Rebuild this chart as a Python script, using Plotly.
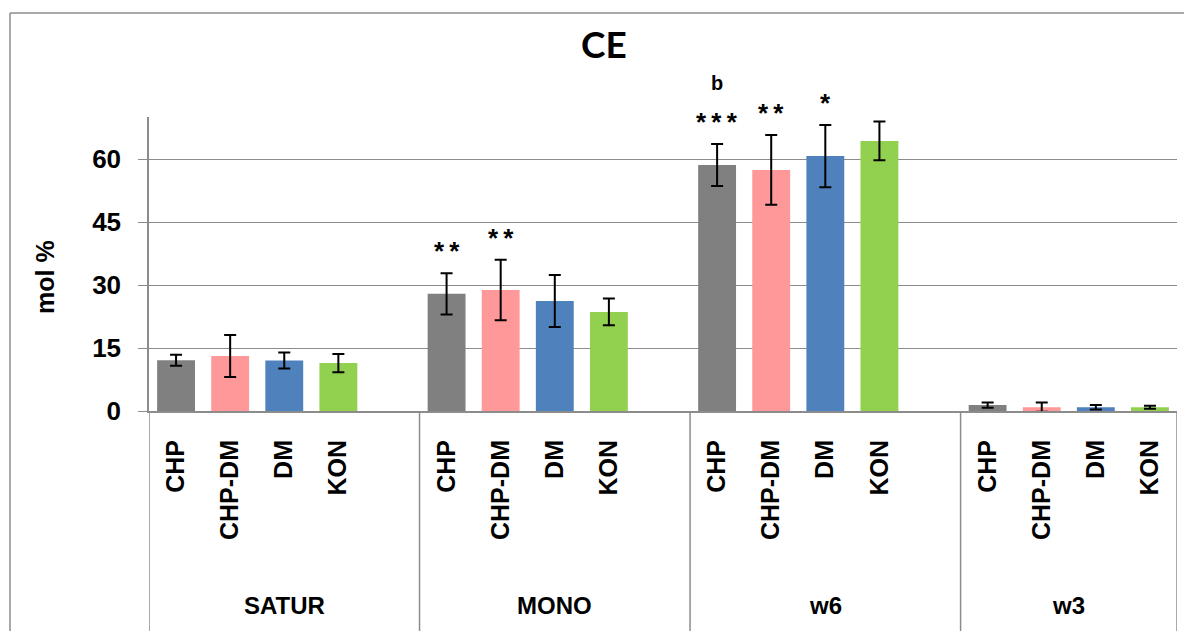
import plotly.graph_objects as go

# ---- data ----
groups = ["SATUR", "MONO", "w6", "w3"]
treatments = ["CHP", "CHP-DM", "DM", "KON"]

chp_mean = [12.1, 27.9, 58.6, 1.4]
chpdm_mean = [13.1, 28.8, 57.4, 0.9]
dm_mean = [12.0, 26.2, 60.7, 0.9]
kon_mean = [11.4, 23.6, 64.3, 0.9]

chp_err = [1.3, 4.9, 5.0, 0.6]
chpdm_err = [5.0, 7.2, 8.3, 1.1]
dm_err = [1.9, 6.2, 7.4, 0.55]
kon_err = [2.2, 3.2, 4.6, 0.35]

sig_group = ["MONO", "MONO", "w6", "w6", "w6"]
sig_treat = ["CHP", "CHP-DM", "CHP", "CHP-DM", "DM"]
sig_text = ["**", "**", "***", "**", "*"]

letter_group = ["w6"]
letter_treat = ["CHP"]
letter_text = ["b"]

y_ticks = [0, 15, 30, 45, 60]

# ---- style ----
colors = ["#808080", "#FF9999", "#4F81BD", "#92D050"]
FONT = "Liberation Sans, Arial, sans-serif"
GRID = "#8c8c8c"
OFF = 8  # page body margin
W, H = 1192 - OFF, 639 - 2 * OFF
L, T = 149 - OFF, 117 - OFF
R = W - (1177 - OFF)
B = H - (411 - OFF)
slots_per_group = 5
n_slots = 19

means = [chp_mean, chpdm_mean, dm_mean, kon_mean]
errs = [chp_err, chpdm_err, dm_err, kon_err]


def xpos(gi, ti):
    return gi * slots_per_group + ti + 0.5


fig = go.Figure()
for ti, t in enumerate(treatments):
    fig.add_trace(go.Bar(
        x=[xpos(gi, ti) for gi in range(len(groups))],
        y=means[ti],
        width=0.7,
        marker=dict(color=colors[ti], line=dict(width=0)),
        error_y=dict(type="data", array=errs[ti], color="black",
                     thickness=2, width=6, visible=True),
        name=t,
        showlegend=False,
    ))

tickvals = [xpos(gi, ti) for gi in range(len(groups)) for ti in range(len(treatments))]
ticktext = [t for gi in range(len(groups)) for t in treatments]

plot_h = H - T - B
plot_w = W - L - R


def py(page_y):
    return (411 - page_y) / plot_h


def px(page_x):
    return (page_x - 149) / plot_w


annotations = []
# asterisks
for g, t, s in zip(sig_group, sig_treat, sig_text):
    gi, ti = groups.index(g), treatments.index(t)
    top = means[ti][gi] + errs[ti][gi]
    annotations.append(dict(
        x=xpos(gi, ti), y=top, xref="x", yref="y", text="\u2009".join(s),
        showarrow=False, yanchor="middle", yshift=22,
        font=dict(family=FONT, size=26, color="black", weight="bold")))
for g, t, s in zip(letter_group, letter_treat, letter_text):
    gi, ti = groups.index(g), treatments.index(t)
    top = means[ti][gi] + errs[ti][gi]
    annotations.append(dict(
        x=xpos(gi, ti), y=top, xref="x", yref="y", text=s,
        showarrow=False, yanchor="middle", yshift=61,
        font=dict(family=FONT, size=20, color="black", weight="bold")))

# group labels
for gi, g in enumerate(groups):
    start = gi * slots_per_group
    end = min(start + slots_per_group, n_slots)
    annotations.append(dict(
        x=(start + end) / 2, y=py(605), xref="x", yref="paper",
        text=g, showarrow=False, yanchor="middle",
        font=dict(family=FONT, size=24, color="black", weight="bold")))

# y axis title
annotations.append(dict(
    x=px(45), y=py(277), xref="paper", yref="paper",
    text="mol %", textangle=-90, showarrow=False,
    xanchor="center", yanchor="middle",
    font=dict(family=FONT, size=25, color="black", weight="bold")))

shapes = []
# outer chart frame (top and left edges; right/bottom are cropped in the original)
frame = dict(color="#8c8c8c", width=1.5)
shapes.append(dict(type="line", xref="paper", yref="paper",
                   x0=px(10), x1=px(1300), y0=py(13), y1=py(13), line=frame))
shapes.append(dict(type="line", xref="paper", yref="paper",
                   x0=px(10), x1=px(10), y0=py(13), y1=py(700), line=frame))
# category separators
for xs in [0, 5, 10, 15, 19]:
    shapes.append(dict(type="line", xref="x", yref="paper",
                       x0=xs, x1=xs, y0=0, y1=py(633),
                       line=dict(color=GRID, width=1.5)))

fig.update_layout(
    width=W, height=H, autosize=False,
    margin=dict(l=L, r=R, t=T, b=B),
    paper_bgcolor="white", plot_bgcolor="white",
    barmode="overlay",
    title=dict(text="CE", x=(604 - OFF) / W, xref="container", xanchor="center",
               y=1 - (45 - OFF) / H, yref="container", yanchor="middle",
               font=dict(family="Lato, Carlito, sans-serif", size=37,
                         color="black", weight="bold")),
    xaxis=dict(range=[0, n_slots], tickvals=tickvals, ticktext=ticktext,
               tickangle=-90, ticks="", showgrid=False, zeroline=False,
               showline=True, linecolor=GRID, linewidth=2,
               ticklabelstandoff=17,
               tickfont=dict(family=FONT, size=25, color="black", weight="bold")),
    yaxis=dict(range=[0, 70], tickvals=y_ticks, ticks="outside", ticklen=9,
               tickcolor=GRID, tickwidth=1.3, showgrid=True, gridcolor=GRID,
               gridwidth=1.3, zeroline=False, showline=True, linecolor=GRID,
               linewidth=1.5, ticklabelstandoff=12,
               tickfont=dict(family=FONT, size=26, color="black", weight="bold")),
    annotations=annotations,
    shapes=shapes,
)

fig.write_html("out.html")
